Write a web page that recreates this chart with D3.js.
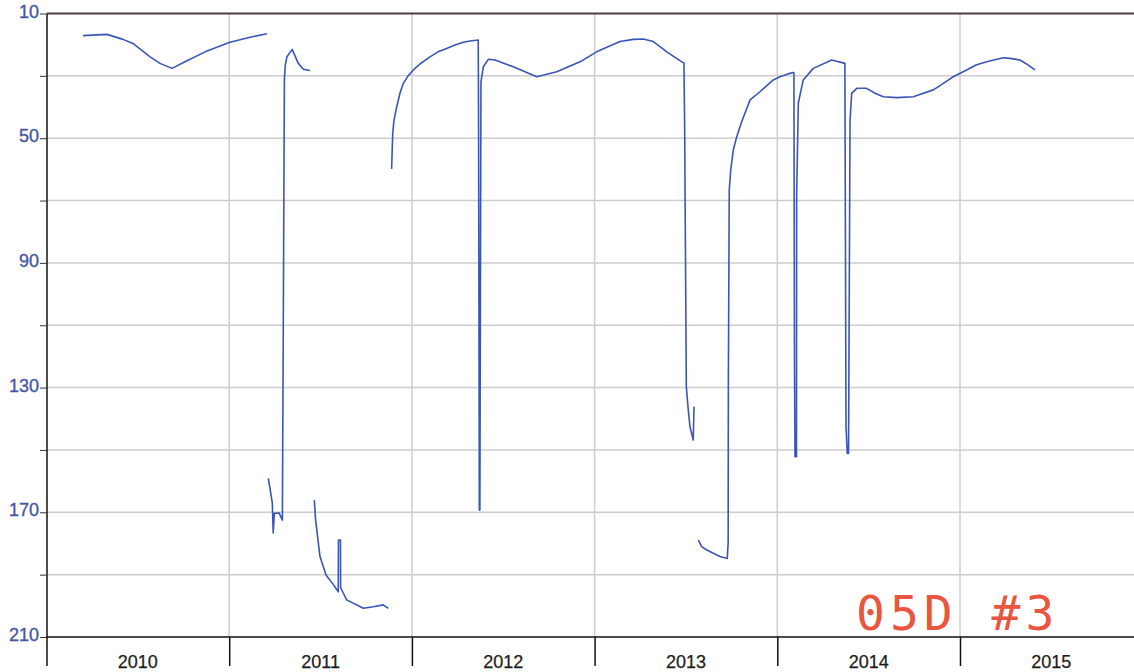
<!DOCTYPE html>
<html>
<head>
<meta charset="utf-8">
<script src="https://cdn.jsdelivr.net/npm/d3@7"></script>
<style>
  html, body { margin: 0; padding: 0; background: #ffffff; }
  svg { display: block; }
</style>
</head>
<body>
<svg id="chart" width="1134" height="672"></svg>
<script>
// ---- data: water-level record in pieces (decimal year, depth) ----
const run1Years  = [2010.200, 2010.331, 2010.419, 2010.473, 2010.567, 2010.621, 2010.687, 2010.758, 2010.868, 2011.004, 2011.114, 2011.207];
const run1Depths = [17.1, 16.7, 18.3, 19.6, 23.9, 26.0, 27.6, 25.5, 22.3, 19.2, 17.6, 16.5];

const run2Years  = [2011.214, 2011.236, 2011.241, 2011.247, 2011.273, 2011.291, 2011.296, 2011.302, 2011.307, 2011.316, 2011.345, 2011.378, 2011.406, 2011.442];
const run2Depths = [159.1, 167.0, 176.6, 170.3, 170.2, 172.5, 111.5, 31.3, 26.5, 23.9, 21.5, 26.0, 27.9, 28.3];

const run3Years  = [2011.466, 2011.473, 2011.497, 2011.530, 2011.570, 2011.597, 2011.598, 2011.609, 2011.610, 2011.643, 2011.734, 2011.789, 2011.843, 2011.871];
const run3Depths = [166.1, 172.5, 184.2, 190.1, 193.2, 195.5, 178.9, 178.9, 194.2, 198.1, 200.8, 200.3, 199.7, 200.8];

const run4Years  = [2011.889, 2011.895, 2011.902, 2011.917, 2011.935, 2011.953, 2011.979, 2012.008, 2012.044, 2012.099, 2012.143, 2012.190,
                    2012.236, 2012.281, 2012.318, 2012.363, 2012.365, 2012.367, 2012.369, 2012.372, 2012.378, 2012.391, 2012.418, 2012.455,
                    2012.555, 2012.683, 2012.793, 2012.920, 2013.011, 2013.139, 2013.212, 2013.267, 2013.321, 2013.358, 2013.395, 2013.477,
                    2013.489, 2013.493, 2013.502, 2013.511, 2013.522, 2013.540, 2013.544];
const run4Depths = [59.9, 48.4, 44.2, 39.9, 35.5, 32.4, 30.0, 28.1, 26.2, 23.9, 22.3, 21.2,
                    20.1, 19.2, 18.8, 18.5, 46.3, 104.0, 169.3, 169.3, 31.9, 27.1, 24.7, 24.9,
                    27.1, 30.3, 28.7, 25.5, 22.3, 19.0, 18.3, 18.2, 19.0, 20.6, 22.3, 25.5,
                    25.9, 47.4, 129.7, 136.1, 142.5, 146.8, 136.1];

const run5Years  = [2013.568, 2013.586, 2013.614, 2013.686, 2013.726, 2013.731, 2013.732, 2013.737, 2013.745, 2013.759, 2013.778, 2013.805,
                    2013.851, 2013.905, 2013.978, 2014.015, 2014.069, 2014.088, 2014.091, 2014.094, 2014.097, 2014.105, 2014.106, 2014.115,
                    2014.142, 2014.197, 2014.298, 2014.370, 2014.376, 2014.383, 2014.390, 2014.398, 2014.407, 2014.435, 2014.489, 2014.535,
                    2014.580, 2014.654, 2014.744, 2014.854, 2014.909, 2014.963, 2015.036, 2015.087, 2015.146, 2015.237, 2015.274, 2015.328,
                    2015.372, 2015.410];
const run5Depths = [178.9, 181.0, 182.1, 184.2, 184.8, 179.8, 129.7, 66.6, 60.2, 53.8, 49.5, 44.7,
                    37.7, 35.1, 31.3, 30.3, 29.2, 28.9, 29.2, 122.1, 152.2, 152.2, 68.2, 38.7,
                    31.3, 27.6, 24.9, 26.0, 142.5, 151.1, 151.1, 44.7, 35.6, 34.0, 34.0, 35.6,
                    36.7, 37.0, 36.7, 34.5, 32.4, 30.3, 28.1, 26.5, 25.5, 24.2, 24.4, 24.9,
                    26.5, 28.1];

const yearTicks = [2010, 2011, 2012, 2013, 2014, 2015];
const yearLabels = ["2010", "2011", "2012", "2013", "2014", "2015"];
const depthTicks = [10, 30, 50, 70, 90, 110, 130, 150, 170, 190, 210];
const depthLabels = [10, 50, 90, 130, 170, 210];
const stamp = "05D #3";

const runs = [
  [run1Years, run1Depths], [run2Years, run2Depths], [run3Years, run3Depths],
  [run4Years, run4Depths], [run5Years, run5Depths]
].map(([ys, ds]) => ys.map((yr, i) => [yr, ds[i]]));

// ---- layout ----
const W = 1134, H = 672;
const plotLeft = 46.5, plotTop = 13.5, plotBottom = 637;
const yearWidth = 182.7;

const x = d3.scaleLinear().domain([2010, 2016]).range([plotLeft, plotLeft + 6 * yearWidth]);
const y = d3.scaleLinear().domain([10, 210]).range([plotTop, plotBottom]);

const svg = d3.select("#chart");

// grid
const grid = svg.append("g").attr("stroke", "#cdcdcd").attr("stroke-width", 1.5);
grid.selectAll("line.h").data(depthTicks.filter(d => d > 10 && d < 210)).join("line")
  .attr("class", "h")
  .attr("x1", plotLeft).attr("x2", W).attr("y1", d => y(d)).attr("y2", d => y(d));
grid.selectAll("line.v").data(yearTicks.slice(1)).join("line")
  .attr("class", "v")
  .attr("x1", d => x(d)).attr("x2", d => x(d)).attr("y1", plotTop).attr("y2", plotBottom);

// top border
svg.append("line").attr("x1", plotLeft).attr("x2", W).attr("y1", plotTop).attr("y2", plotTop)
  .attr("stroke", "#4a3f3a").attr("stroke-width", 2);

// y axis
const yAxis = d3.axisLeft(y).tickValues(depthTicks).tickSizeInner(6.5).tickSizeOuter(0).tickPadding(1)
  .tickFormat(d => depthLabels.includes(d) ? String(d) : "");
const gy = svg.append("g").attr("transform", `translate(${plotLeft},0)`).call(yAxis);
gy.select(".domain").attr("stroke", "#111").attr("stroke-width", 1.5);
gy.selectAll(".tick line").attr("stroke", "#333").attr("stroke-width", 1);
gy.selectAll(".tick text").attr("fill", "#4556a6").attr("font-family", "Liberation Sans, Arial, sans-serif")
  .attr("font-size", 18).attr("dy", "0.2em")
  .attr("stroke", "#4556a6").attr("stroke-width", 0.35);

// x axis
const xAxis = d3.axisBottom(x).tickValues(yearTicks).tickSizeInner(29).tickSizeOuter(0).tickFormat("");
const gx = svg.append("g").attr("transform", `translate(0,${plotBottom})`).call(xAxis);
gx.select(".domain").attr("stroke", "#111").attr("stroke-width", 1.5).attr("d", `M${plotLeft},0H${W}`);
gx.selectAll(".tick line").attr("stroke", "#111").attr("stroke-width", 1.5);
svg.append("g").selectAll("text").data(yearTicks).join("text")
  .attr("x", d => x(d + 0.5)).attr("y", 667.5)
  .attr("text-anchor", "middle")
  .attr("font-family", "Liberation Sans, Arial, sans-serif").attr("font-size", 18).attr("fill", "#1e1e1e")
  .attr("stroke", "#1e1e1e").attr("stroke-width", 0.25)
  .text((d, i) => yearLabels[i]);

// data line
const line = d3.line().x(d => x(d[0])).y(d => y(d[1]));
svg.append("g").selectAll("path").data(runs).join("path")
  .attr("fill", "none").attr("stroke", "#3b55b5").attr("stroke-width", 1.6)
  .attr("stroke-linejoin", "round").attr("d", line);

// stamp
svg.append("text").attr("x", 856).attr("y", 630)
  .attr("font-family", "DejaVu Sans Mono, monospace").attr("font-size", 48)
  .attr("letter-spacing", "5px").attr("fill", "#e9553f").text(stamp);
</script>
</body>
</html>
